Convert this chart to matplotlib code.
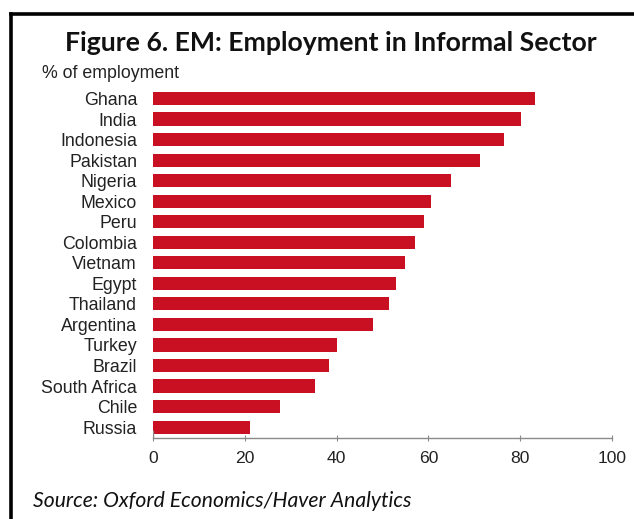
import matplotlib.pyplot as plt
from matplotlib.lines import Line2D

# Informal employment, % of total employment
countries = ['Ghana', 'India', 'Indonesia', 'Pakistan', 'Nigeria', 'Mexico', 'Peru',
             'Colombia', 'Vietnam', 'Egypt', 'Thailand', 'Argentina', 'Turkey',
             'Brazil', 'South Africa', 'Chile', 'Russia']
informal_share = [83.2, 80.1, 76.5, 71.3, 64.9, 60.5, 59.0, 57.1, 54.9, 52.9, 51.4,
                  47.9, 40.0, 38.3, 35.3, 27.6, 21.2]
xticks = [0, 20, 40, 60, 80, 100]

bar_color = '#c90f22'

fig = plt.figure(figsize=(6.34, 5.19), dpi=100)
ax = fig.add_axes([0.2413, 0.156, 0.724, 0.674])

ypos = list(range(len(countries)))
ax.barh(ypos, informal_share, height=0.64, color=bar_color)
ax.set_ylim(len(countries) - 0.47, -0.5)
ax.set_xlim(0, 100)

ax.set_yticks(ypos)
ax.set_yticklabels(countries, family='Liberation Sans', fontsize=12.8, color='#222222')
ax.set_xticks(xticks)
ax.set_xticklabels([str(t) for t in xticks], family='Liberation Sans', fontsize=12.6,
                   color='#222222')
ax.tick_params(axis='y', length=0, pad=11.5)
ax.tick_params(axis='x', direction='inout', length=5, color='#8a8a8a', pad=7)

for side in ['top', 'right', 'left']:
    ax.spines[side].set_visible(False)
ax.spines['bottom'].set_color('#8a8a8a')
ax.spines['bottom'].set_linewidth(1.0)

# left tick line at zero
ax.axvline(0, ymin=0, ymax=0.02, color='#8a8a8a', lw=1.0)

fig.text(0.522, 0.918, 'Figure 6. EM: Employment in Informal Sector', ha='center',
         va='center', family='Lato', fontweight='bold', fontsize=19.2, color='#111111')
fig.text(0.066, 0.859, '% of employment', ha='left', va='center',
         family='Liberation Sans', fontsize=12.8, color='#222222')
fig.text(0.052, 0.035, 'Source: Oxford Economics/Haver Analytics', ha='left',
         va='center', family='Lato', style='italic', fontsize=15.2, color='#111111')

# frame around the panel (top and left edges)
x0, y0 = 10.5 / 634, 1 - 13.5 / 519
fig.add_artist(Line2D([x0, 1.0], [y0, y0], transform=fig.transFigure,
                      color='black', lw=2.6))
fig.add_artist(Line2D([x0, x0], [0.0, y0], transform=fig.transFigure,
                      color='black', lw=2.6))

plt.savefig('out.png', dpi=100)
